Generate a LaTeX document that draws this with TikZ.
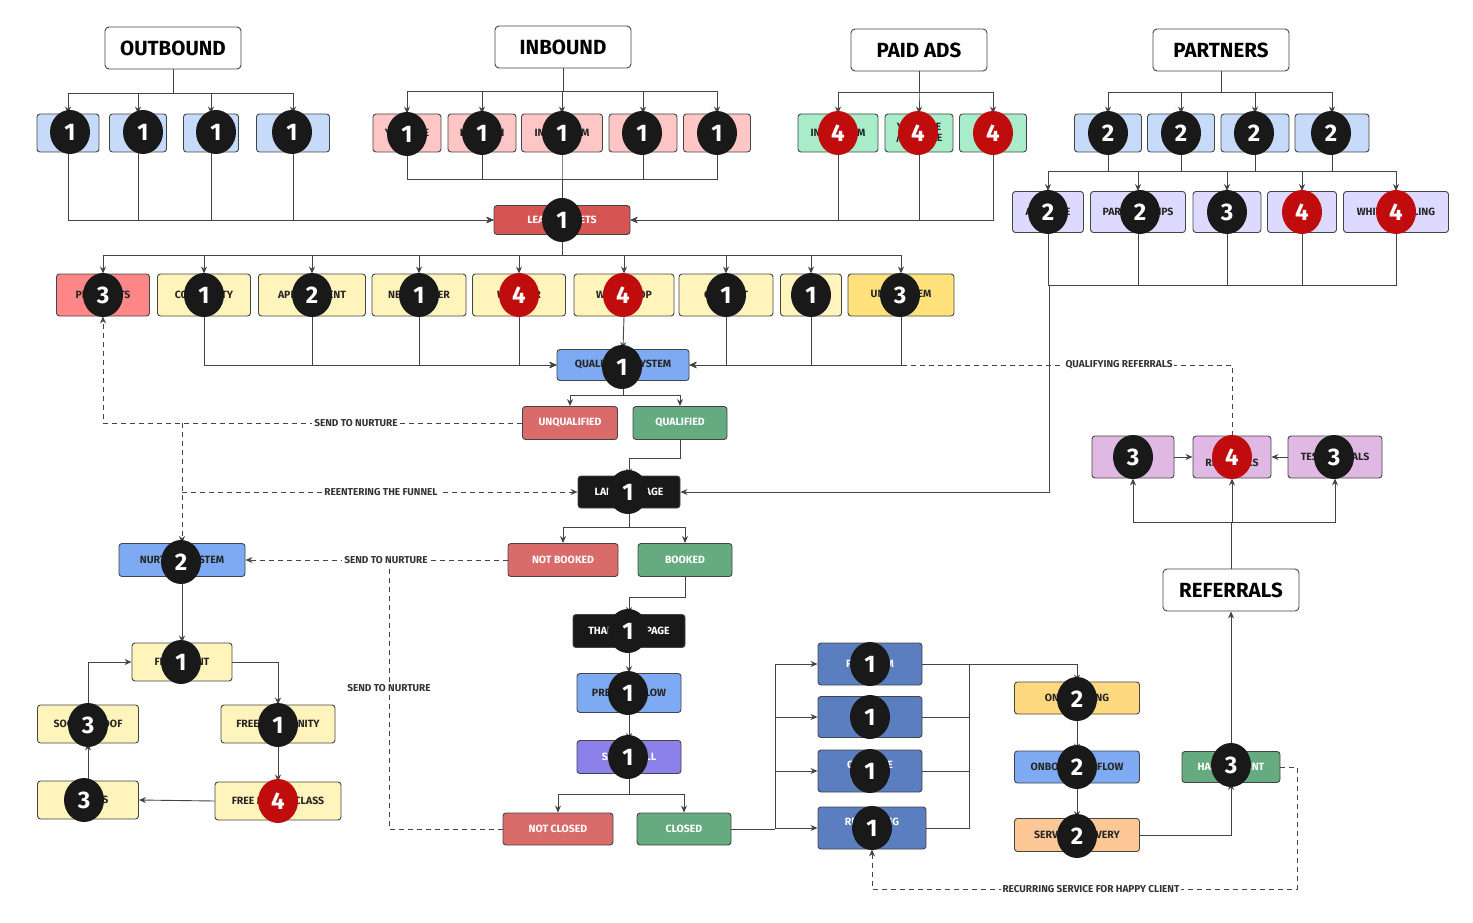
\documentclass[tikz,border=0pt]{standalone}
\usepackage{fontspec}
\setmainfont{Fira Sans}
\usetikzlibrary{shapes.geometric,arrows.meta}
\definecolor{lb}{HTML}{C6DBFA}
\definecolor{pk}{HTML}{FFC6C6}
\definecolor{gr}{HTML}{A9ECC9}
\definecolor{lv}{HTML}{DEDAFF}
\definecolor{ly}{HTML}{FFF4BC}
\definecolor{dy}{HTML}{FFE27C}
\definecolor{rd}{HTML}{D55555}
\definecolor{rr}{HTML}{DA6B6B}
\definecolor{pr}{HTML}{FF8787}
\definecolor{gg}{HTML}{66AB7F}
\definecolor{mb}{HTML}{7DAAF2}
\definecolor{db}{HTML}{5A7EBF}
\definecolor{pu}{HTML}{8C80EA}
\definecolor{or}{HTML}{FFD97F}
\definecolor{pe}{HTML}{FDC896}
\definecolor{mv}{HTML}{DFB9E4}
\definecolor{br}{HTML}{C00C0C}
\definecolor{ln}{HTML}{444444}
\tikzset{
 x=1pt,y=-1pt,
 box/.style={draw=ln,line width=0.9pt,rounded corners=3pt,inner sep=1pt,font=\fontsize{10.5}{11.5}\selectfont\bfseries,text=black!85},
 wbox/.style={box,text=white},
 ttl/.style={draw=ln,line width=0.9pt,rounded corners=4pt,fill=white,minimum width=136,minimum height=42,font=\fontsize{20.5}{22}\selectfont\bfseries},
 bdg/.style={ellipse,fill=black!90,minimum width=40,minimum height=44,inner sep=0pt,text=white,font=\fontsize{24}{24}\selectfont\bfseries},
 rbdg/.style={bdg,fill=br},
 arr/.style={draw=ln,line width=0.9pt,-{Stealth[length=7pt,width=6pt]}},
 ln/.style={draw=ln,line width=0.9pt},
 dsh/.style={draw=ln,line width=0.9pt,dash pattern=on 5pt off 4pt},
 lbl/.style={fill=white,inner sep=2pt,font=\fontsize{10}{11}\selectfont\bfseries,text=black!80},
}
\begin{document}
\begin{tikzpicture}
\useasboundingbox (0,0) rectangle (1473,923);
% titles
\node[ttl] (OUT) at (173,48) {OUTBOUND};
\node[ttl] (INB) at (563,47) {INBOUND};
\node[ttl] (PAID) at (919,50) {PAID ADS};
\node[ttl] (PART) at (1221,50) {PARTNERS};
\node[ttl] (REF) at (1231,590) {REFERRALS};
% outbound
\foreach \n/\x/\w in {o1/68/62,o2/138/57,o3/211/55,o4/293/73}
  \node[box,fill=lb,minimum width=\w,minimum height=38] (\n) at (\x,133) {};
% inbound
\node[box,fill=pk,minimum width=68,minimum height=38] (i1) at (407,133) {YOUTUBE};
\node[box,fill=pk,minimum width=68,minimum height=38] (i2) at (482,133) {LINKEDIN};
\node[box,fill=pk,minimum width=81,minimum height=38] (i3) at (562,133) {INSTAGRAM};
\node[box,fill=pk,minimum width=68,minimum height=38] (i4) at (643,133) {};
\node[box,fill=pk,minimum width=67,minimum height=38] (i5) at (717,133) {};
% paid
\node[box,fill=gr,minimum width=80,minimum height=38] (p1) at (838,133) {INSTAGRAM};
\node[box,fill=gr,minimum width=68,minimum height=38,align=center] (p2) at (919,133) {YOUTUBE\\/ GOOGLE};
\node[box,fill=gr,minimum width=67,minimum height=38] (p3) at (993,133) {};
% partners
\foreach \n/\x/\w in {q1/1108/67,q2/1181/67,q3/1255/68,q4/1332/74}
  \node[box,fill=lb,minimum width=\w,minimum height=38] (\n) at (\x,133) {};
\node[box,fill=lv,minimum width=71,minimum height=41] (r1) at (1048,212) {AFFILIATE};
\node[box,fill=lv,minimum width=95,minimum height=41] (r2) at (1138,212) {PARTNERSHIPS};
\node[box,fill=lv,minimum width=68,minimum height=41] (r3) at (1227,212) {};
\node[box,fill=lv,minimum width=69,minimum height=41] (r4) at (1302,212) {WHITE};
\node[box,fill=lv,minimum width=105,minimum height=41] (r5) at (1396,212) {WHITE LABELING};
% lead
\node[wbox,fill=rd,minimum width=136,minimum height=29] (LEAD) at (562,220) {LEAD BUCKETS};
% middle row
\node[box,fill=pr,minimum width=93,minimum height=42] (m1) at (103,295) {PROSPECTS};
\node[box,fill=ly,minimum width=93,minimum height=42] (m2) at (204,295) {COMMUNITY};
\node[box,fill=ly,minimum width=107,minimum height=42] (m3) at (312,295) {APPOINTMENT};
\node[box,fill=ly,minimum width=94,minimum height=42] (m4) at (419,295) {NEWSLETTER};
\node[box,fill=ly,minimum width=93,minimum height=42] (m5) at (519,295) {WEBINAR};
\node[box,fill=ly,minimum width=100,minimum height=42] (m6) at (624,295) {WORKSHOP};
\node[box,fill=ly,minimum width=94,minimum height=42] (m7) at (726,295) {CONTENT};
\node[box,fill=ly,minimum width=61,minimum height=42] (m8) at (811,295) {};
\node[box,fill=dy,minimum width=106,minimum height=42] (m9) at (901,295) {UNQ SYSTEM};
% funnel
\node[box,fill=mb,minimum width=132,minimum height=31] (QUAL) at (623,365) {QUALIFYING SYSTEM};
\node[wbox,fill=rr,minimum width=95,minimum height=33] (UNQ) at (570,423) {UNQUALIFIED};
\node[wbox,fill=gg,minimum width=94,minimum height=33] (QLF) at (680,423) {QUALIFIED};
\node[wbox,fill=black!90,minimum width=102,minimum height=32] (LAND) at (629,492) {LANDING PAGE};
\node[wbox,fill=rr,minimum width=110,minimum height=33] (NB) at (563,560) {NOT BOOKED};
\node[wbox,fill=gg,minimum width=94,minimum height=33] (BK) at (685,560) {BOOKED};
\node[wbox,fill=black!90,minimum width=112,minimum height=33] (TY) at (629,631) {THANK YOU PAGE};
\node[box,fill=mb,minimum width=104,minimum height=39] (PC) at (629,693) {PRE-CALL FLOW};
\node[wbox,fill=pu,minimum width=104,minimum height=33] (SC) at (629,757) {SALES CALL};
\node[wbox,fill=rr,minimum width=110,minimum height=32] (NC) at (558,829) {NOT CLOSED};
\node[wbox,fill=gg,minimum width=94,minimum height=32] (CL) at (684,829) {CLOSED};
% nurture
\node[box,fill=mb,minimum width=126,minimum height=33] (NURT) at (182,560) {NURTURE SYSTEM};
\node[box,fill=ly,minimum width=100,minimum height=38] (FE) at (182,662) {FREE EVENT};
\node[box,fill=ly,minimum width=114,minimum height=38] (FC) at (278,724) {FREE COMMUNITY};
\node[box,fill=ly,minimum width=126,minimum height=38] (FM) at (278,801) {FREE MASTERCLASS};
\node[box,fill=ly,minimum width=101,minimum height=38] (SP) at (88,724) {SOCIAL PROOF};
\node[box,fill=ly,minimum width=101,minimum height=38] (CS) at (88,800) {RESULTS};
% delivery
\node[wbox,fill=db,minimum width=104,minimum height=42] (b1) at (870,664) {PROGRAM};
\node[wbox,fill=db,minimum width=104,minimum height=41] (b2) at (870,717) {};
\node[wbox,fill=db,minimum width=104,minimum height=42,align=center] (b3) at (870,771) {ONE-TIME\\SERVICE};
\node[wbox,fill=db,minimum width=108,minimum height=42,align=center] (b4) at (872,828) {RECURRING\\SERVICE};
\node[box,fill=or,minimum width=125,minimum height=32] (ON) at (1077,698) {ONBOARDING};
\node[box,fill=mb,minimum width=125,minimum height=32] (OF) at (1077,767) {ONBOARDING FLOW};
\node[box,fill=pe,minimum width=125,minimum height=33] (SD) at (1077,835) {SERVICE DELIVERY};
\node[wbox,fill=gg,minimum width=98,minimum height=31] (HC) at (1231,767) {HAPPY CLIENT};
\node[box,fill=mv,minimum width=82,minimum height=42] (f1) at (1133,457) {};
\node[box,fill=mv,minimum width=78,minimum height=42,align=center] (f2) at (1232,457) {PAID\\REFERRALS};
\node[box,fill=mv,minimum width=94,minimum height=42,text depth=-8pt] (f3) at (1335,457) {TESTIMONIALS};

% ---- connectors
\foreach \n in {o1,o2,o3,o4} {\draw[arr] (OUT.south) -- ++(0,24) -| (\n.north); \draw[arr] (\n.south) |- (LEAD.west);}
\foreach \n in {i1,i2,i3,i4,i5} {\draw[arr] (INB.south) -- ++(0,23) -| (\n.north); \draw[arr] (\n.south) -- ++(0,27) -| (LEAD.north);}
\foreach \n in {p1,p2,p3} {\draw[arr] (PAID.south) -- ++(0,21) -| (\n.north); \draw[arr] (\n.south) |- (LEAD.east);}
\foreach \n in {q1,q2,q3,q4} {\draw[arr] (PART.south) -- ++(0,21) -| (\n.north); \draw[ln] (\n.south) -- ++(0,20);}
\draw[ln] ([yshift=20pt]r1.north) -- ([yshift=20pt]r5.north);
\coordinate (J) at (1049,285);
\foreach \n in {r1,r2,r3,r4,r5} {\draw[arr] ([yshift=20pt]\n.north) -- (\n.north); \draw[ln] (\n.south) |- (J);}
\draw[arr] (J) |- (LAND.east);
% qualifying referrals (dashed)
\draw[dsh,-{Stealth[length=7pt,width=6pt]}] (f2.north) |- (QUAL.east);
\node[lbl] (qrl) at (1119,365) {QUALIFYING REFERRALS};
\foreach \n in {m1,m2,m3,m4,m5,m6,m7,m8,m9} \draw[arr] (LEAD.south) -- ++(0,20) -| (\n.north);
\foreach \n in {m2,m3,m4,m5} \draw[arr] (\n.south) |- (QUAL.west);
\foreach \n in {m7,m8,m9} \draw[arr] (\n.south) |- (QUAL.east);
\draw[arr] (m6.south) -- (QUAL.north);
\draw[arr] (QUAL.south) -- ++(0,14) -| (UNQ.north);
\draw[arr] (QUAL.south) -- ++(0,14) -| (QLF.north);
\draw[dsh,-{Stealth[length=7pt,width=6pt]}] (UNQ.west) -| (m1.south);
\node[lbl] (s1) at (356,423) {SEND TO NURTURE};
\coordinate (N1) at (NURT.north |- UNQ.west);
\draw[dsh,-{Stealth[length=7pt,width=6pt]}] (N1) -- (NURT.north);
\draw[dsh,-{Stealth[length=7pt,width=6pt]}] (NURT.north |- LAND.west) -- (LAND.west);
\node[lbl] (rf) at (381,492) {REENTERING THE FUNNEL};
\draw[arr] (QLF.south) -- ++(0,18) -| (LAND.north);
\draw[arr] (LAND.south) -- ++(0,19) -| (NB.north);
\draw[arr] (LAND.south) -- ++(0,19) -| (BK.north);
\coordinate (D) at (389,560);
\draw[dsh] (NC.west) -| (D);
\draw[dsh,-{Stealth[length=7pt,width=6pt]}] (NB.west) -- (NURT.east);
\node[lbl] (s2) at (386,560) {SEND TO NURTURE};
\node[lbl] (s3) at (389,688) {SEND TO NURTURE};
\draw[arr] (BK.south) -- ++(0,20) -| (TY.north);
\draw[arr] (TY.south) -- (PC.north);
\draw[arr] (PC.south) -- (SC.north);
\draw[arr] (SC.south) -- ++(0,20) -| (NC.north);
\draw[arr] (SC.south) -- ++(0,20) -| (CL.north);
\coordinate (C1) at (775,829);
\draw[ln] (CL.east) -- (C1);
\foreach \n in {b1,b2,b3,b4} \draw[arr] (C1) |- (\n.west);
\coordinate (C2) at (969,664);
\foreach \n in {b2,b3,b4} \draw[ln] (\n.east) -| (C2);
\draw[arr] (b1.east) -| (ON.north);
\draw[arr] (ON.south) -- (OF.north);
\draw[arr] (OF.south) -- (SD.north);
\draw[arr] (SD.east) -| (HC.south);
\draw[arr] (HC.north) -- (REF.south);
\foreach \n in {f1,f2,f3} \draw[arr] (REF.north) -- ++(0,-46) -| (\n.south);
\draw[arr] (f1.east) -- (f2.west);
\draw[arr] (f3.west) -- (f2.east);
\draw[dsh,-{Stealth[length=7pt,width=6pt]}] (HC.east) -| (1297,889) -| (b4.south);
\node[lbl] (rc) at (1091,889) {RECURRING SERVICE FOR HAPPY CLIENT};
% nurture loop
\draw[arr,{Stealth[length=7pt,width=6pt]}-{Stealth[length=7pt,width=6pt]}] (NURT.south) -- (FE.north);
\draw[arr] (FE.east) -| (FC.north);
\draw[arr] (FC.south) -- (FM.north);
\draw[arr] (FM.west) -- (CS.east);
\draw[arr] (CS.north) -- (SP.south);
\draw[arr] (SP.north) |- (FE.west);

% ---- badges
\node[bdg] (k1) at (70,132) {1};
\node[bdg] (k2) at (143,132) {1};
\node[bdg] (k3) at (216,132) {1};
\node[bdg] (k4) at (292,132) {1};
\node[bdg] (k5) at (407,134) {1};
\node[bdg] (k6) at (482,133) {1};
\node[bdg] (k7) at (562,133) {1};
\node[bdg] (k8) at (642,133) {1};
\node[bdg] (k9) at (717,133) {1};
\node[rbdg] (k10) at (838,133) {4};
\node[rbdg] (k11) at (918,133) {4};
\node[rbdg] (k12) at (993,133) {4};
\node[bdg] (k13) at (1108,133) {2};
\node[bdg] (k14) at (1181,133) {2};
\node[bdg] (k15) at (1254,133) {2};
\node[bdg] (k16) at (1331,133) {2};
\node[bdg] (k17) at (1048,212) {2};
\node[bdg] (k18) at (1140,212) {2};
\node[bdg] (k19) at (1227,212) {3};
\node[rbdg] (k20) at (1302,212) {4};
\node[rbdg] (k21) at (1396,212) {4};
\node[bdg] (k22) at (562,220) {1};
\node[bdg] (k23) at (103,295) {3};
\node[bdg] (k24) at (204,295) {1};
\node[bdg] (k25) at (312,295) {2};
\node[bdg] (k26) at (419,295) {1};
\node[rbdg] (k27) at (519,295) {4};
\node[rbdg] (k28) at (623,295) {4};
\node[bdg] (k29) at (726,295) {1};
\node[bdg] (k30) at (811,295) {1};
\node[bdg] (k31) at (900,295) {3};
\node[bdg] (k32) at (622,367) {1};
\node[bdg] (k33) at (628,492) {1};
\node[bdg] (k34) at (181,562) {2};
\node[bdg] (k35) at (628,631) {1};
\node[bdg] (k36) at (628,693) {1};
\node[bdg] (k37) at (628,757) {1};
\node[bdg] (k38) at (181,662) {1};
\node[bdg] (k39) at (278,725) {1};
\node[rbdg] (k40) at (278,801) {4};
\node[bdg] (k41) at (88,725) {3};
\node[bdg] (k42) at (84,800) {3};
\node[bdg] (k43) at (870,664) {1};
\node[bdg] (k44) at (870,717) {1};
\node[bdg] (k45) at (870,771) {1};
\node[bdg] (k46) at (872,828) {1};
\node[bdg] (k47) at (1077,699) {2};
\node[bdg] (k48) at (1077,767) {2};
\node[bdg] (k49) at (1077,836) {2};
\node[bdg] (k50) at (1231,765) {3};
\node[bdg] (k51) at (1133,457) {3};
\node[rbdg] (k52) at (1232,457) {4};
\node[bdg] (k53) at (1334,457) {3};
\end{tikzpicture}
\end{document}
